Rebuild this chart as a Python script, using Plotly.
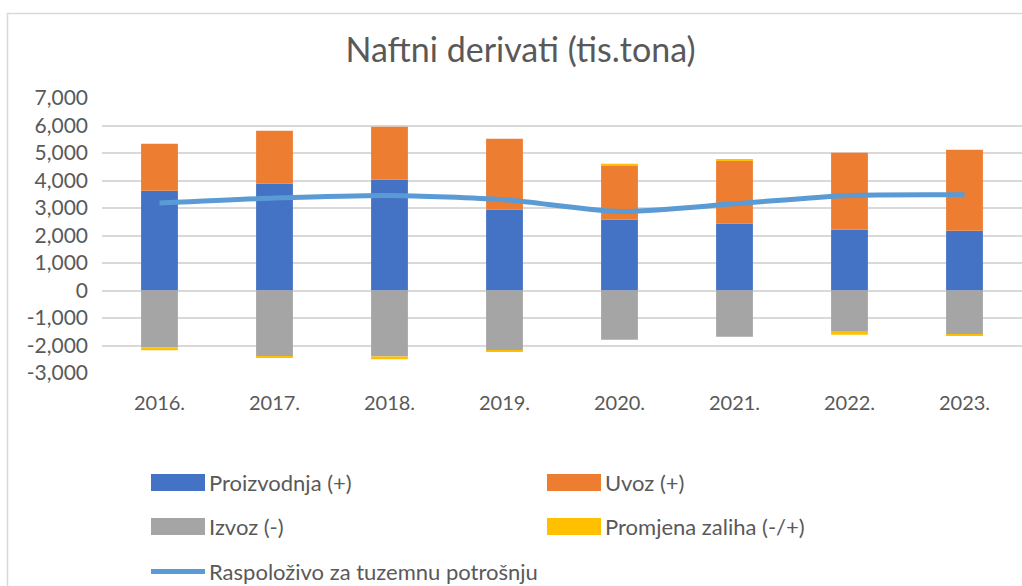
import plotly.graph_objects as go

years = ["2016.", "2017.", "2018.", "2019.", "2020.", "2021.", "2022.", "2023."]
proizvodnja = [3625, 3880, 4025, 2935, 2571, 2425, 2207, 2171]
uvoz = [1710, 1927, 1928, 2581, 1974, 2290, 2800, 2945]
izvoz = [-2073, -2400, -2400, -2193, -1793, -1684, -1502, -1611]
promjena = [-100, -20, -100, -15, 60, 35, -105, -30]
raspolozivo = [3178, 3360, 3455, 3300, 2873, 3153, 3455, 3480]

ytick_vals = [-3000, -2000, -1000, 0, 1000, 2000, 3000, 4000, 5000, 6000, 7000]
ytick_text = ["-3,000", "-2,000", "-1,000", "0", "1,000", "2,000", "3,000",
              "4,000", "5,000", "6,000", "7,000"]

names = ["Proizvodnja (+)", "Uvoz (+)", "Izvoz (-)", "Promjena zaliha (-/+)",
         "Raspoloživo za tuzemnu potrošnju"]
colors = ["#4472C4", "#ED7D31", "#A5A5A5", "#FFC000", "#5B9BD5"]
TXT = "#595959"
FONT = "Lato"

W, H = 1022, 586
L, R, T, B = 102, 0, 98, 213
PW, PH = W - L - R, H - T - B

fig = go.Figure()
for name, vals, col in zip(names[:4], [proizvodnja, uvoz, izvoz, promjena], colors[:4]):
    fig.add_trace(go.Bar(x=years, y=vals, name=name, marker=dict(color=col, line=dict(width=0)),
                         showlegend=False))
fig.add_trace(go.Scatter(x=years, y=raspolozivo, name=names[4], mode="lines",
                         line=dict(color=colors[4], width=5, shape="spline", smoothing=0.7),
                         showlegend=False))


def px_x(px):
    return (px - L) / PW


def px_y(py):
    return (H - B - py) / PH


shapes = [
    # chart area border
    dict(type="rect", xref="paper", yref="paper",
         x0=px_x(7.5), x1=px_x(1040), y0=px_y(13.5), y1=px_y(600),
         line=dict(color="#D9D9D9", width=1.5), fillcolor="rgba(0,0,0,0)", layer="below"),
]
annotations = []
legend_pos = [(151, 482.5), (547, 482.5), (151, 526.5), (547, 526.5), (151, 571.5)]
for i, (name, col) in enumerate(zip(names, colors)):
    sx, sy = legend_pos[i]
    if i < 4:
        shapes.append(dict(type="rect", xref="paper", yref="paper",
                           x0=px_x(sx), x1=px_x(sx + 54), y0=px_y(sy - 8.5), y1=px_y(sy + 8.5),
                           line=dict(width=0), fillcolor=col))
    else:
        shapes.append(dict(type="line", xref="paper", yref="paper",
                           x0=px_x(sx), x1=px_x(sx + 54), y0=px_y(sy), y1=px_y(sy),
                           line=dict(color=col, width=5)))
    annotations.append(dict(text=name, xref="paper", yref="paper", x=px_x(sx + 56), y=px_y(sy),
                            xanchor="left", yanchor="middle", showarrow=False,
                            font=dict(family=FONT, size=22, color=TXT)))

fig.update_layout(
    width=W, height=H,
    margin=dict(l=L, r=R, t=T, b=B, autoexpand=False),
    paper_bgcolor="white", plot_bgcolor="white",
    barmode="relative", bargap=0.68,
    title=dict(text="Naftni derivati (tis.tona)", x=520.5 / W, xref="container", xanchor="center",
               y=1 - 50 / H, yref="container", yanchor="middle",
               font=dict(family=FONT, size=34, color=TXT)),
    font=dict(family=FONT, color=TXT),
    shapes=shapes, annotations=annotations,
    showlegend=False,
)
fig.update_xaxes(showgrid=False, showline=False, zeroline=False, ticks="",
                 tickfont=dict(family=FONT, size=20, color=TXT), ticklabelstandoff=16)
fig.update_yaxes(range=[-3000, 7000], tickvals=ytick_vals, ticktext=ytick_text,
                 showgrid=True, gridcolor="#D9D9D9", gridwidth=1.5, zeroline=False,
                 showline=False, ticks="", tickfont=dict(family=FONT, size=21, color=TXT),
                 ticklabelstandoff=13)

fig.write_html("out.html", config={"displayModeBar": False},
               post_script="document.body.style.margin='0';document.body.style.overflow='hidden';")
